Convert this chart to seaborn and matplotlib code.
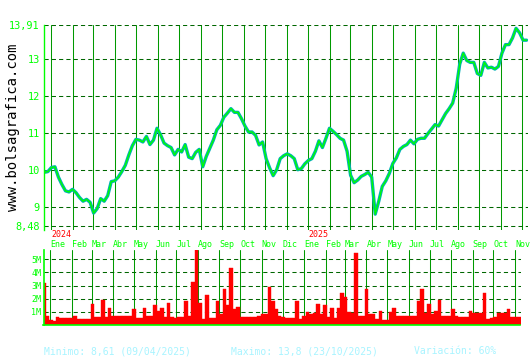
import matplotlib
matplotlib.use("Agg")
import numpy as np
import pandas as pd
import matplotlib.pyplot as plt
import matplotlib.dates as mdates
import matplotlib.transforms as mtransforms
import seaborn as sns

sns.set_style("white")
plt.rcParams["font.family"] = ["DejaVu Sans Mono", "DejaVu Sans"]

# ---------------- data ----------------
start_date = "2023-12-23"
step_days = 5

close = [
    9.93, 9.95, 10.06, 10.08, 9.80, 9.60, 9.43, 9.40, 9.47, 9.38,
    9.25, 9.15, 9.20, 9.12, 8.83, 8.95, 9.22, 9.15, 9.30, 9.68,
    9.70, 9.80, 9.95, 10.12, 10.40, 10.65, 10.82, 10.80, 10.75, 10.90,
    10.68, 10.80, 11.12, 10.95, 10.72, 10.65, 10.60, 10.40, 10.55, 10.48,
    10.68, 10.34, 10.30, 10.47, 10.55, 10.08, 10.36, 10.58, 10.80, 11.08,
    11.20, 11.42, 11.53, 11.65, 11.55, 11.55, 11.38, 11.18, 11.02, 11.02,
    10.93, 10.67, 10.75, 10.30, 10.05, 9.84, 10.00, 10.30, 10.38, 10.43,
    10.38, 10.30, 10.00, 10.03, 10.16, 10.25, 10.30, 10.50, 10.78, 10.60,
    10.85, 11.12, 11.04, 10.95, 10.85, 10.80, 10.50, 9.85, 9.65, 9.72,
    9.82, 9.87, 9.93, 9.80, 8.80, 9.15, 9.55, 9.70, 9.90, 10.17,
    10.32, 10.55, 10.63, 10.68, 10.80, 10.70, 10.82, 10.85, 10.85, 10.98,
    11.10, 11.22, 11.18, 11.35, 11.52, 11.65, 11.80, 12.20, 12.85, 13.15,
    12.95, 12.90, 12.90, 12.60, 12.55, 12.90, 12.75, 12.77, 12.72, 12.79,
    13.15, 13.38, 13.38, 13.56, 13.82, 13.70, 13.50, 13.50,
]

volume_m = [
    3.2, 0.7, 0.35, 0.3, 0.6, 0.55, 0.55, 0.5, 0.55, 0.65,
    0.45, 0.45, 0.45, 0.45, 1.6, 0.6, 0.6, 1.9, 0.6, 1.3,
    0.7, 0.7, 0.65, 0.7, 0.65, 0.7, 1.2, 0.55, 0.5, 1.3,
    0.7, 0.7, 1.5, 1.1, 1.3, 0.6, 1.7, 0.6, 0.5, 0.6,
    0.6, 1.8, 0.7, 3.3, 5.7, 1.7, 0.45, 2.3, 0.55, 0.55,
    1.8, 0.8, 2.7, 1.5, 4.3, 1.2, 1.4, 0.6, 0.6, 0.6,
    0.6, 0.6, 0.7, 0.8, 0.8, 2.9, 1.8, 1.2, 0.7, 0.6,
    0.5, 0.5, 0.5, 1.8, 0.45, 0.7, 1.0, 0.8, 0.9, 1.6,
    0.8, 1.5, 0.6, 1.3, 0.55, 1.3, 2.4, 2.1, 1.0, 0.9,
    5.5, 0.7, 0.7, 2.7, 0.8, 0.8, 0.45, 1.1, 0.4, 0.4,
    1.0, 1.3, 0.7, 0.7, 0.7, 0.7, 0.65, 0.7, 1.8, 2.7,
    0.9, 1.6, 0.8, 1.1, 1.9, 0.7, 0.7, 0.7, 1.2, 0.7,
    0.6, 0.6, 0.6, 1.1, 0.9, 0.9, 0.9, 2.4, 0.45, 0.5,
    0.6, 0.9, 0.9, 0.9, 1.2, 0.6, 0.6, 0.6,
]

month_names = ["Ene", "Feb", "Mar", "Abr", "May", "Jun",
               "Jul", "Ago", "Sep", "Oct", "Nov", "Dic"]
price_ticks = [8.48, 9, 10, 11, 12, 13, 13.91]
price_tick_labels = ["8,48", "9", "10", "11", "12", "13", "13,91"]
vol_ticks = [1, 2, 3, 4, 5]
vol_tick_labels = ["1M", "2M", "3M", "4M", "5M"]
year_marks = ["2024-01-01", "2025-01-01"]
year_texts = ["2024", "2025"]
stats_texts = ["Minimo: 8,61 (09/04/2025)",
               "Maximo: 13,8 (23/10/2025)",
               "Variación: 60%"]

# ---------------- frame ----------------
dates = pd.date_range(start_date, periods=len(close), freq=f"{step_days}D")
df = pd.DataFrame({"date": dates, "close": close, "vol": volume_m})
df["dnum"] = mdates.date2num(df["date"])

W, H = 530, 360
fig = plt.figure(figsize=(W / 100, H / 100), dpi=100)
fig.patch.set_facecolor("white")


def box(l, t, r, b):
    return [l / W, 1 - b / H, (r - l) / W, (b - t) / H]


axp = fig.add_axes(box(44, 25, 528, 230))
axv = fig.add_axes(box(43.5, 250, 520.5, 325))

xmin = mdates.date2num(pd.Timestamp("2023-12-22 12:00"))
xmax = mdates.date2num(pd.Timestamp("2025-11-09"))
month_starts = pd.date_range("2024-01-01", "2025-11-01", freq="MS")
month_pos = mdates.date2num(month_starts)
month_lbls = [month_names[d.month - 1] for d in month_starts]

GREEN = "#00ff00"
VGRID = "#009900"
HGRID = "#006600"
TEAL = "#00b0b4"
GRID_LW = 0.75
DASH = (0, (4, 3))

# ---------------- price panel ----------------
sns.lineplot(data=df, x="dnum", y="close", ax=axp, color=TEAL, lw=2.4,
             estimator=None, legend=False)
sns.lineplot(data=df, x="dnum", y="close", ax=axp, color=GREEN, lw=1.0,
             estimator=None, legend=False)
axp.set_xlim(xmin, xmax)
axp.set_ylim(8.372, 13.91)
axp.set_xticks(month_pos)
axp.set_xticklabels([])
axp.set_yticks(price_ticks)
axp.set_yticklabels(price_tick_labels)
axp.set_xlabel("")
axp.set_ylabel("")
axp.set_axisbelow(True)
axp.grid(axis="x", color=VGRID, lw=GRID_LW, ls="-")
axp.grid(axis="y", color=HGRID, lw=GRID_LW, ls=DASH)
axp.tick_params(axis="both", length=0)
axp.tick_params(axis="y", labelsize=7.4, labelcolor=GREEN, pad=3)
for s in ["top", "right", "bottom"]:
    axp.spines[s].set_visible(False)
axp.spines["left"].set_color(GREEN)
axp.spines["left"].set_linewidth(1.0)

trans = mtransforms.blended_transform_factory(axp.transData, axp.transAxes)
for d, t in zip(year_marks, year_texts):
    axp.text(mdates.date2num(pd.Timestamp(d)) + 0.5, -0.024, t, transform=trans,
             color="#ff0000", fontsize=6, ha="left", va="center")

# ---------------- volume panel ----------------
axv.bar(df["dnum"], df["vol"], width=step_days, color="#ff0000",
        edgecolor="#ff0000", linewidth=0.3, align="center")
axv.set_xlim(xmin, xmax)
axv.set_ylim(0, 5.7)
axv.set_xticks(month_pos)
axv.set_xticklabels(month_lbls)
axv.set_yticks(vol_ticks)
axv.set_yticklabels(vol_tick_labels)
axv.set_xlabel("")
axv.set_ylabel("")
axv.set_axisbelow(True)
axv.grid(axis="x", color=VGRID, lw=GRID_LW, ls="-")
axv.grid(axis="y", color=HGRID, lw=GRID_LW, ls=DASH)
axv.tick_params(axis="both", length=0)
axv.tick_params(axis="x", labeltop=True, labelbottom=False, labelsize=6,
                labelcolor=GREEN, pad=0.8)
axv.tick_params(axis="y", labelsize=6, labelcolor=GREEN, pad=1.5)
for lbl in axv.get_xticklabels():
    lbl.set_ha("left")
for s in ["top", "right"]:
    axv.spines[s].set_visible(False)
for s in ["left", "bottom"]:
    axv.spines[s].set_color(GREEN)
    axv.spines[s].set_linewidth(1.2)

# ---------------- texts ----------------
fig.text(13 / W, 1 - 127 / H, "www.bolsagrafica.com", rotation=90,
         ha="center", va="center", fontsize=10, color="black")
for xpos, t in zip([44, 231, 414], stats_texts):
    fig.text(xpos / W, 1 - 351 / H, t, ha="left", va="center",
             fontsize=7, color="#a8f4ff")

fig.savefig("out.png", dpi=100, facecolor="white")
